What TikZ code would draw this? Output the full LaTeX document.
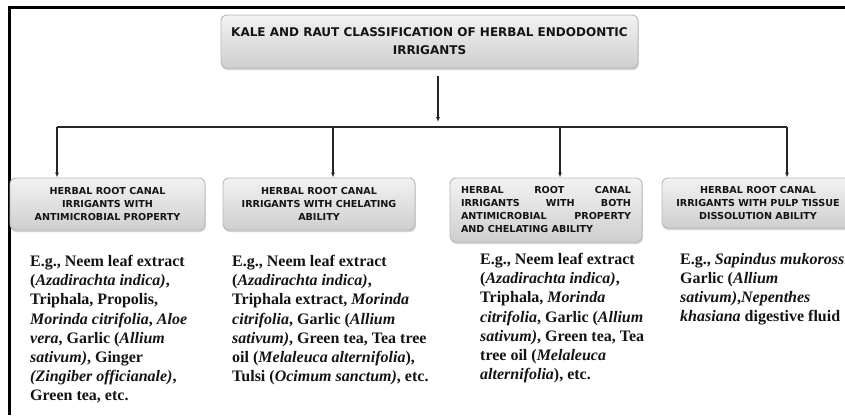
\documentclass[tikz,border=0pt]{standalone}
\usepackage{fontspec}
\setmainfont{Liberation Serif}
\newfontfamily\boxfont{DejaVu Sans}
\usetikzlibrary{shadows,arrows.meta}
\tikzset{
  catbox/.style={rounded corners=6pt, draw=gray!55, line width=0.9pt,
    top color=gray!10, bottom color=gray!38, align=center,
    font=\boxfont\bfseries\fontsize{9.6}{13}\selectfont, text=black!92,
    drop shadow={shadow xshift=0.8pt, shadow yshift=-2pt, opacity=0.35}},
  titlebox/.style={catbox, font=\boxfont\bfseries\fontsize{12}{18}\selectfont},
  extext/.style={anchor=north west, inner sep=0pt, align=left, text=black!92,
    font=\bfseries\fontsize{16}{19.2}\selectfont},
  arr/.style={-{Latex[length=5pt,width=4pt]}, line width=1.2pt, black!85},
  busline/.style={line width=2.2pt, black!85},
  frame/.style={line width=2.6pt, black}
}
\begin{document}
\begin{tikzpicture}[x=1pt,y=-1pt]
\useasboundingbox (0,0) rectangle (845,415);
\clip (0,0) rectangle (845,415);
\fill[white] (0,0) rectangle (845,415);
% frame lines
\draw[frame] (9.5,415) -- (9.5,7.5) -- (845,7.5);
% title
\node[titlebox, minimum width=417pt, minimum height=53pt] (title) at (429.5,41.5)
  {KALE AND RAUT CLASSIFICATION OF HERBAL ENDODONTIC\\IRRIGANTS};
% bus coordinates
\coordinate (top) at (438,76);
\coordinate (bus) at (438,127);
\coordinate (b1) at (57,127);
\coordinate (b2) at (333,127);
\coordinate (b3) at (560,127);
\coordinate (b4) at (787,127);
% category boxes
\node[catbox, minimum width=195pt, minimum height=52pt] (c1) at (107.5,204)
  {HERBAL ROOT CANAL\\IRRIGANTS WITH\\ANTIMICROBIAL PROPERTY};
\node[catbox, minimum width=192pt, minimum height=52pt] (c2) at (319,204)
  {HERBAL ROOT CANAL\\IRRIGANTS WITH CHELATING\\ABILITY};
\node[catbox, minimum width=192pt, minimum height=64pt, align=left] (c3) at (546,210)
  {\hbox to 170pt{HERBAL\hfil ROOT\hfil CANAL}\\
   \hbox to 170pt{IRRIGANTS\hfil WITH\hfil BOTH}\\
   \hbox to 170pt{ANTIMICROBIAL\hfil PROPERTY}\\
   AND CHELATING ABILITY};
\node[catbox, minimum width=192pt, minimum height=50pt] (c4) at (758,203)
  {HERBAL ROOT CANAL\\IRRIGANTS WITH PULP TISSUE\\DISSOLUTION ABILITY};
% connectors
\draw[arr] (top) -- ([yshift=5pt]bus);
\draw[busline] (b1) -- (b4);
\draw[arr] (b1) -- (b1 |- c1.north);
\draw[arr] (b2) -- (b2 |- c2.north);
\draw[arr] (b3) -- (b3 |- c3.north);
\draw[arr] (b4) -- (b4 |- c4.north);
% example texts
\node[extext] (t1) at (30,255) {E.g., Neem leaf extract\\
(\textit{Azadirachta indica)},\\
Triphala, Propolis,\\
\textit{Morinda citrifolia}, \textit{Aloe}\\
\textit{vera}, Garlic (\textit{Allium}\\
\textit{sativum)}, Ginger\\
\textit{(Zingiber officianale)},\\
Green tea, etc.};
\node[extext] (t2) at (232,255) {E.g., Neem leaf extract\\
(\textit{Azadirachta indica)},\\
Triphala extract, \textit{Morinda}\\
\textit{citrifolia}, Garlic (\textit{Allium}\\
\textit{sativum)}, Green tea, Tea tree\\
oil (\textit{Melaleuca alternifolia}),\\
Tulsi (\textit{Ocimum sanctum)}, etc.};
\node[extext] (t3) at (480,253) {E.g., Neem leaf extract\\
(\textit{Azadirachta indica)},\\
Triphala, \textit{Morinda}\\
\textit{citrifolia}, Garlic (\textit{Allium}\\
\textit{sativum)}, Green tea, Tea\\
tree oil (\textit{Melaleuca}\\
\textit{alternifolia}), etc.};
\node[extext] (t4) at (680,253) {E.g., \textit{Sapindus mukorossi},\\
Garlic (\textit{Allium}\\
\textit{sativum)},\textit{Nepenthes}\\
\textit{khasiana} digestive fluid};
\end{tikzpicture}
\end{document}
